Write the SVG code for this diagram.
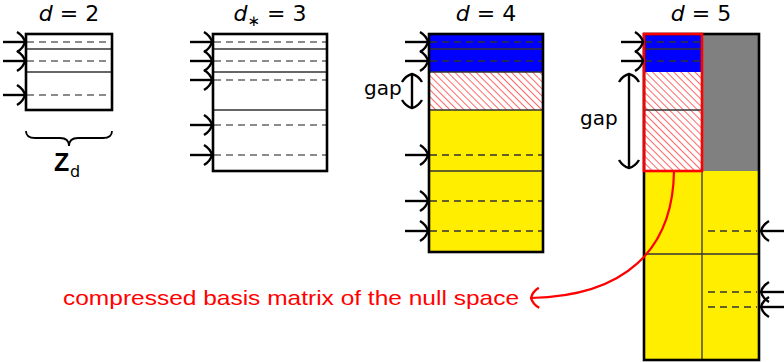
<svg xmlns="http://www.w3.org/2000/svg" width="784" height="362" viewBox="0 0 784 362">
<defs>
<style>
.t{font-family:"DejaVu Sans","Liberation Sans",sans-serif;fill:#000}
.ti{font-family:"DejaVu Sans","Liberation Sans",sans-serif;font-size:22px}
.box{fill:none;stroke:#000;stroke-width:2.6}
.sol{stroke:#333;stroke-width:1.3}
.dsh{stroke:#666;stroke-width:1.3;stroke-dasharray:7,5}
.dshk{stroke:#333;stroke-width:1.3;stroke-dasharray:7,5}
.arr{stroke:#000;stroke-width:2.4;fill:none;marker-end:url(#hd)}
.dbl{stroke:#000;stroke-width:2.4;fill:none;marker-end:url(#hd);marker-start:url(#hd)}
</style>
<marker id="hd" markerUnits="userSpaceOnUse" viewBox="-11 -12 14 24" refX="0" refY="0" markerWidth="14" markerHeight="24" orient="auto-start-reverse">
<path d="M-8,-10 C-3,-7 -0.5,-2 0,0 C-0.5,2 -3,7 -8,10" fill="none" stroke="#000" stroke-width="2.4"/>
</marker>
<marker id="hr" markerUnits="userSpaceOnUse" viewBox="-11 -12 14 24" refX="0" refY="0" markerWidth="14" markerHeight="24" orient="auto">
<path d="M-8,-10 C-3,-7 -0.5,-2 0,0 C-0.5,2 -3,7 -8,10" fill="none" stroke="#f00" stroke-width="2.4"/>
</marker>
<pattern id="hatch" patternUnits="userSpaceOnUse" width="5" height="5" patternTransform="rotate(-45)">
<rect width="5" height="5" fill="#fff"/>
<line x1="0" y1="0" x2="0" y2="5" stroke="#f00" stroke-width="1.2"/>
</pattern>
</defs>

<g id="m2">
<text class="ti" x="69" y="21" text-anchor="middle"><tspan font-style="italic">d</tspan> = 2</text>
<line class="dsh" x1="27" y1="42" x2="111" y2="42"/>
<line class="sol" x1="27" y1="49" x2="111" y2="49"/>
<line class="dsh" x1="27" y1="61" x2="111" y2="61"/>
<line class="sol" x1="27" y1="72" x2="111" y2="72"/>
<line class="dsh" x1="27" y1="95" x2="111" y2="95"/>
<rect class="box" x="26" y="34" width="86" height="76"/>
<path class="arr" d="M3,42 H25"/>
<path class="arr" d="M3,61 H25"/>
<path class="arr" d="M3,95 H25"/>
<path d="M26,131 q0,7 9,7 H60 q9,0 9,8 q0,-8 9,-8 H103 q9,0 9,-7" fill="none" stroke="#000" stroke-width="1.8"/>
<text x="54" y="171" font-family="Liberation Sans, sans-serif" font-size="25" font-weight="bold">Z</text>
<text class="t" x="70" y="177" font-size="16">d</text>
</g>

<g id="m3">
<text class="ti" x="270" y="21" text-anchor="middle"><tspan font-style="italic">d</tspan><tspan font-size="15" dy="5">∗</tspan><tspan dy="-5"> = 3</tspan></text>
<line class="dsh" x1="214" y1="42" x2="326" y2="42"/>
<line class="sol" x1="214" y1="49" x2="326" y2="49"/>
<line class="dsh" x1="214" y1="61" x2="326" y2="61"/>
<line class="sol" x1="214" y1="72" x2="326" y2="72"/>
<line class="dsh" x1="214" y1="80" x2="326" y2="80"/>
<line class="sol" x1="214" y1="110" x2="326" y2="110"/>
<line class="dsh" x1="214" y1="125" x2="326" y2="125"/>
<line class="dsh" x1="214" y1="155" x2="326" y2="155"/>
<rect class="box" x="213" y="34" width="114" height="137"/>
<path class="arr" d="M190,42 H212"/>
<path class="arr" d="M190,61 H212"/>
<path class="arr" d="M190,80 H212"/>
<path class="arr" d="M190,125 H212"/>
<path class="arr" d="M190,155 H212"/>
</g>

<g id="m4">
<text class="ti" x="486" y="21" text-anchor="middle"><tspan font-style="italic">d</tspan> = 4</text>
<rect x="429" y="34" width="114" height="38" fill="#0000ff"/>
<rect x="429" y="72" width="114" height="38" fill="url(#hatch)"/>
<rect x="429" y="110" width="114" height="142" fill="#ffee00"/>
<line class="dshk" x1="430" y1="42" x2="542" y2="42"/>
<line class="sol" x1="430" y1="49" x2="542" y2="49"/>
<line class="dshk" x1="430" y1="61" x2="542" y2="61"/>
<line class="sol" x1="430" y1="72" x2="542" y2="72"/>
<line class="sol" x1="430" y1="110" x2="542" y2="110"/>
<line class="dshk" x1="430" y1="155" x2="542" y2="155"/>
<line class="sol" x1="430" y1="171" x2="542" y2="171"/>
<line class="dshk" x1="430" y1="201" x2="542" y2="201"/>
<line class="dshk" x1="430" y1="231" x2="542" y2="231"/>
<rect class="box" x="429" y="34" width="114" height="218"/>
<path class="arr" d="M405,42 H428"/>
<path class="arr" d="M405,61 H428"/>
<path class="arr" d="M405,155 H428"/>
<path class="arr" d="M405,201 H428"/>
<path class="arr" d="M405,231 H428"/>
<path class="dbl" d="M412,74 V108"/>
<text class="t" x="364" y="95" font-size="20">gap</text>
</g>

<g id="m5">
<text class="ti" x="701" y="21" text-anchor="middle"><tspan font-style="italic">d</tspan> = 5</text>
<rect x="644" y="34" width="58" height="38" fill="#0000ff"/>
<rect x="644" y="72" width="58" height="99" fill="url(#hatch)"/>
<rect x="702" y="34" width="57" height="137" fill="#808080"/>
<rect x="644" y="171" width="115" height="189" fill="#ffee00"/>
<line class="dshk" x1="645" y1="42" x2="701" y2="42"/>
<line class="sol" x1="645" y1="49" x2="701" y2="49"/>
<line class="dshk" x1="645" y1="61" x2="701" y2="61"/>
<line class="sol" x1="645" y1="110" x2="701" y2="110"/>
<line class="sol" x1="702" y1="171" x2="702" y2="360"/>
<line class="sol" x1="644" y1="254" x2="759" y2="254"/>
<line class="dshk" x1="708" y1="231" x2="757" y2="231"/>
<line class="dshk" x1="708" y1="292" x2="757" y2="292"/>
<line class="dshk" x1="708" y1="307" x2="757" y2="307"/>
<rect class="box" x="644" y="34" width="115" height="326"/>
<rect x="644" y="34" width="58" height="137" fill="none" stroke="#f00" stroke-width="2.6"/>
<path class="arr" d="M621,42 H643"/>
<path class="arr" d="M621,61 H643"/>
<path class="arr" d="M784,231 H761"/>
<path class="arr" d="M784,292 H761"/>
<path class="arr" d="M784,307 H761"/>
<path class="dbl" d="M629,74 V168"/>
<text class="t" x="580" y="125" font-size="20">gap</text>
</g>

<g id="connectors">
<path d="M674,171 C673,250 625,296 531,298" fill="none" stroke="#f00" stroke-width="2.2" marker-end="url(#hr)"/>
</g>

<g id="label">
<text x="63" y="305" font-family="Liberation Sans, sans-serif" font-size="21" fill="#f00" textLength="456" lengthAdjust="spacingAndGlyphs">compressed basis matrix of the null space</text>
</g>
</svg>
